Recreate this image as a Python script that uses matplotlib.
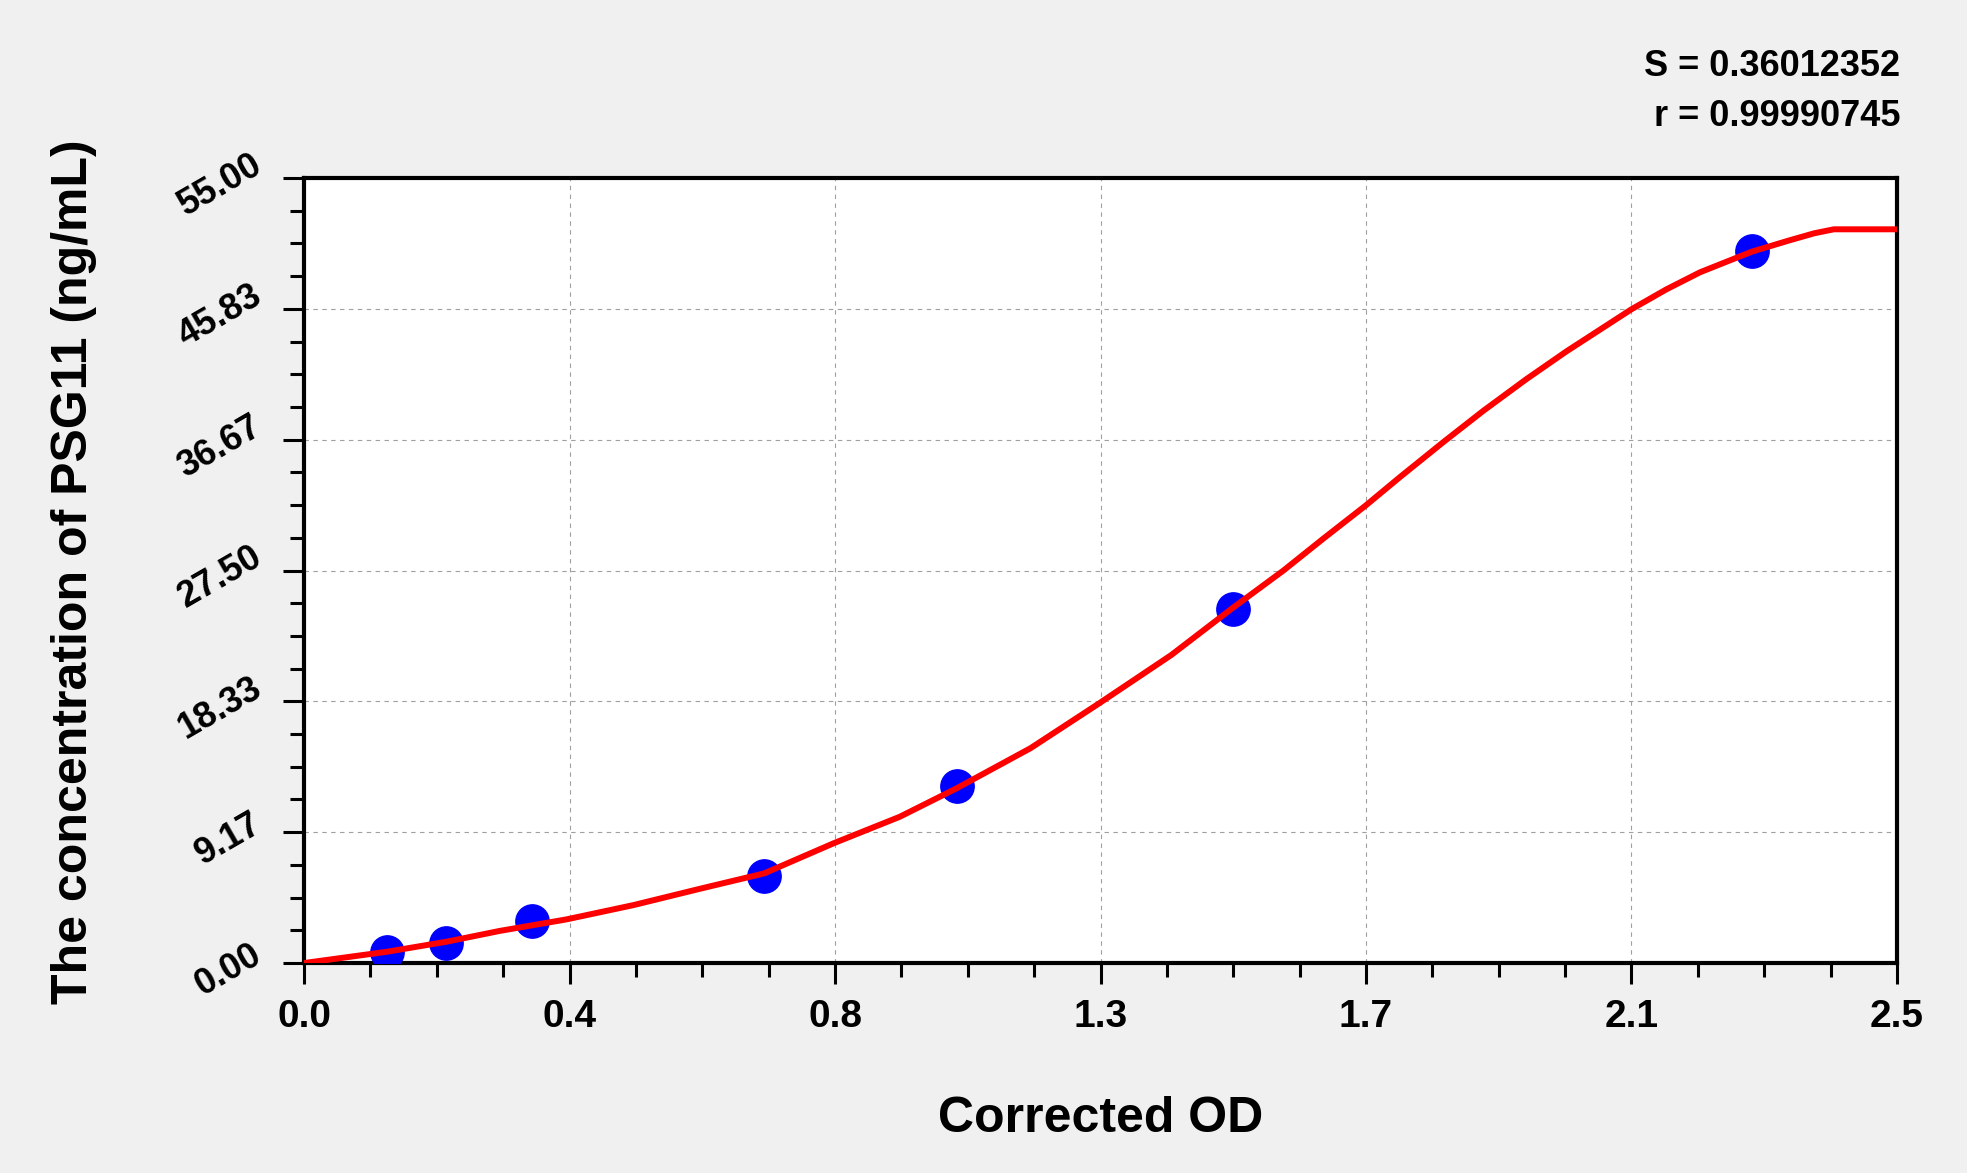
import matplotlib
matplotlib.use("Agg")
import matplotlib.pyplot as plt
import matplotlib.transforms as mtransforms
from matplotlib.ticker import MultipleLocator
import numpy as np

# standard points (corrected OD vs concentration)
od_points = [0.130, 0.223, 0.358, 0.722, 1.024, 1.458, 2.272]
conc_points = [0.74, 1.40, 2.95, 6.08, 12.40, 24.83, 49.90]

# fitted curve
curve_od = [0.000, 0.130, 0.223, 0.307, 0.412, 0.517, 0.621, 0.722, 0.831, 0.935,
            1.024, 1.140, 1.248, 1.361, 1.458, 1.537, 1.600, 1.666, 1.720, 1.788,
            1.851, 1.918, 1.981, 2.083, 2.138, 2.191, 2.272, 2.330, 2.370, 2.401,
            2.500]
curve_conc = [0.00, 0.79, 1.49, 2.25, 3.06, 4.06, 5.20, 6.28, 8.39, 10.25,
              12.24, 15.05, 18.20, 21.58, 24.90, 27.50, 29.75, 32.05, 34.05, 36.50,
              38.70, 40.90, 42.85, 45.80, 47.20, 48.40, 49.84, 50.62, 51.13, 51.41,
              51.41]

x_ticks = list(np.linspace(0, 2.5, 7))
x_labels = ["0.0", "0.4", "0.8", "1.3", "1.7", "2.1", "2.5"]
y_ticks = list(np.linspace(0, 55, 7))
y_labels = ["0.00", "9.17", "18.33", "27.50", "36.67", "45.83", "55.00"]

stat_lines = ["S = 0.36012352", "r = 0.99990745"]

plt.rcParams['font.family'] = ['Liberation Sans', 'DejaVu Sans']
plt.rcParams['font.weight'] = 'bold'

fig = plt.figure(figsize=(19.67, 11.73), dpi=100, facecolor='#f0f0f0')
ax = fig.add_axes([0.1546, 0.1790, 0.8098, 0.6692])
ax.set_facecolor('white')

ax.plot(od_points, conc_points, 'o', color='#0000ff', ms=24, zorder=3)
ax.plot(curve_od, curve_conc, '-', color='#ff0000', lw=4.3, zorder=4,
        solid_capstyle='round', solid_joinstyle='round')

ax.set_xlim(0, 2.5)
ax.set_ylim(0, 55)
ax.set_xticks(x_ticks)
ax.set_xticklabels(x_labels, fontsize=28, fontweight='bold')
ax.set_yticks(y_ticks)
ax.set_yticklabels(y_labels, fontsize=26, fontweight='bold', rotation=30,
                   ha='right', va='center')
ax.xaxis.set_minor_locator(MultipleLocator(2.5 / 24))
ax.yaxis.set_minor_locator(MultipleLocator(55 / 24))

ax.tick_params(axis='both', which='major', direction='out', length=15, width=2.2,
               color='black')
ax.tick_params(axis='both', which='minor', direction='out', length=10, width=2.2,
               color='black')
ax.tick_params(axis='x', which='major', pad=11)
ax.tick_params(axis='y', which='major', pad=11)

# nudge y labels down a little
offset = mtransforms.ScaledTranslation(0, -7 / 100, fig.dpi_scale_trans)
for lab in ax.get_yticklabels():
    lab.set_transform(lab.get_transform() + offset)

for sp in ax.spines.values():
    sp.set_linewidth(3)
    sp.set_color('black')

ax.grid(True, which='major', color='#a0a0a0', lw=0.8, linestyle=(0, (4, 4)))
ax.set_axisbelow(True)

fig.text(0.5597, 0.035, "Corrected OD", fontsize=36, fontweight='bold',
         ha='center', va='baseline')
fig.text(0.0376, 0.513, "The concentration of PSG11 (ng/mL)", fontsize=36,
         fontweight='bold', rotation=90, ha='center', va='center')

fig.text(0.966, 0.943, stat_lines[0], fontsize=26, fontweight='bold',
         ha='right', va='center')
fig.text(0.966, 0.901, stat_lines[1], fontsize=26, fontweight='bold',
         ha='right', va='center')

fig.savefig("out.png", dpi=100, facecolor=fig.get_facecolor())
